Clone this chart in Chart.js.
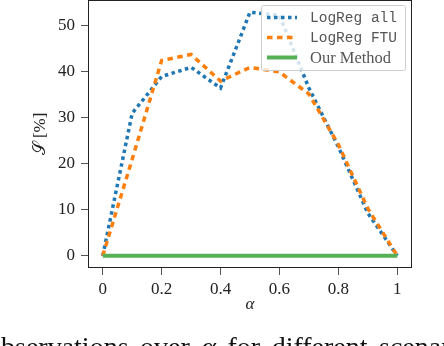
<!DOCTYPE html>
<html>
<head>
<meta charset="utf-8">
<script src="https://cdn.jsdelivr.net/npm/chart.js@4/dist/chart.umd.min.js"></script>
<style>
  html, body { margin: 0; padding: 0; background: #fff; }
  #wrap { position: relative; width: 444px; height: 346px; overflow: hidden; }
  #c { position: absolute; left: 0; top: 0; }
  #caption { position: absolute; left: -13px; top: 333px; white-space: nowrap; word-spacing: 4.5px;
    font-family: "Liberation Serif", serif; font-size: 28px; line-height: 28px; color: #111; }
</style>
</head>
<body>
<div id="wrap">
  <canvas id="c" width="444" height="346"></canvas>
  <div id="caption">observations over <i>α</i> for different scenarios</div>
</div>
<script>
// ---- data ----
const alphaValues = [0, 0.1, 0.2, 0.3, 0.4, 0.5, 0.6, 0.7, 0.8, 0.9, 1.0];
const logRegAll   = [0, 31, 39, 41, 36.5, 53, 52.3, 36.5, 23.7, 9.3, 0];
const logRegFTU   = [0, 21, 42.5, 43.8, 38, 41, 40, 35.2, 24.2, 10.3, 0];
const ourMethod   = [0, 0, 0, 0, 0, 0, 0, 0, 0, 0, 0];
const seriesLabels = ['LogReg all', 'LogReg FTU', 'Our Method'];
const xTickValues = [0, 0.2, 0.4, 0.6, 0.8, 1];
const xTickLabels = ['0', '0.2', '0.4', '0.6', '0.8', '1'];
const yTickValues = [0, 10, 20, 30, 40, 50];
const yTickLabels = ['0', '10', '20', '30', '40', '50'];

const toPts = arr => arr.map((v, i) => ({ x: alphaValues[i], y: v }));

const frame = {
  id: 'frame',
  beforeDatasetsDraw(chart) {
    const a = chart.chartArea, ctx = chart.ctx;
    ctx.save();
    ctx.strokeStyle = '#222';
    ctx.lineWidth = 1;
    ctx.strokeRect(Math.round(a.left) + 0.5, Math.round(a.top) + 0.5,
      Math.round(a.right - a.left) - 1, Math.round(a.bottom - a.top) - 1);
    ctx.restore();
  }
};

const legendBox = {
  id: 'legendBox',
  afterDatasetsDraw(chart) {
    const ctx = chart.ctx;
    const bx = 261.5, by = 5.5, bw = 144, bh = 65;
    ctx.save();
    ctx.fillStyle = 'rgba(255,255,255,0.8)';
    ctx.strokeStyle = '#cccccc';
    ctx.lineWidth = 1;
    ctx.beginPath();
    ctx.roundRect(bx, by, bw, bh, 2);
    ctx.fill();
    ctx.stroke();
    const rows = [17.5, 37.5, 57.5];
    const fonts = ['14.5px "Liberation Mono", monospace', '14.5px "Liberation Mono", monospace', '16.5px "Liberation Serif", serif'];
    chart.data.datasets.forEach((ds, i) => {
      const y = rows[i];
      ctx.strokeStyle = ds.borderColor;
      ctx.lineWidth = ds.borderWidth;
      ctx.lineCap = 'butt';
      ctx.setLineDash(ds.borderDash || []);
      ctx.beginPath();
      ctx.moveTo(267, y);
      ctx.lineTo(297, y);
      ctx.stroke();
      ctx.setLineDash([]);
      ctx.fillStyle = '#555';
      ctx.font = fonts[i];
      ctx.textBaseline = 'middle';
      ctx.textAlign = 'left';
      ctx.fillText(ds.label, 310, y + 1);
    });
    ctx.restore();
  }
};

const tickFont = { family: '"Liberation Serif", serif', size: 17 };

new Chart(document.getElementById('c'), {
  type: 'line',
  data: {
    datasets: [
      { label: seriesLabels[0], data: toPts(logRegAll), borderColor: '#1f77b4', borderWidth: 3.5,
        borderDash: [3.5, 3.5], pointRadius: 0, tension: 0, fill: false, order: 3, borderCapStyle: 'butt' },
      { label: seriesLabels[1], data: toPts(logRegFTU), borderColor: '#ff7f0e', borderWidth: 3.5,
        borderDash: [5.5, 4.5], pointRadius: 0, tension: 0, fill: false, order: 2, borderCapStyle: 'butt' },
      { label: seriesLabels[2], data: toPts(ourMethod), borderColor: '#55b155', borderWidth: 4,
        pointRadius: 0, tension: 0, fill: false, order: 1 }
    ]
  },
  options: {
    responsive: false,
    animation: false,
    devicePixelRatio: 1,
    layout: { padding: { left: 0, right: 32, top: 0, bottom: 0 } },
    plugins: { legend: { display: false }, tooltip: { enabled: false } },
    scales: {
      x: {
        type: 'linear', min: -0.05, max: 1.05,
        afterBuildTicks: s => { s.ticks = xTickValues.map(v => ({ value: v })); },
        afterFit: s => { s.height = 78; s.paddingLeft = 0; s.paddingRight = 0; },
        ticks: { font: tickFont, color: '#222', padding: 4, maxRotation: 0,
          callback: v => xTickLabels[xTickValues.indexOf(v)] },
        grid: { display: true, drawOnChartArea: false, drawTicks: true, tickLength: 7, tickColor: '#555' },
        border: { display: false },
        title: { display: true, text: 'α', font: { family: '"Liberation Serif", serif', size: 17, style: 'italic' },
          color: '#222', padding: { top: 0, bottom: 31 } }
      },
      y: {
        type: 'linear', min: -2.65, max: 55.65,
        afterBuildTicks: s => { s.ticks = yTickValues.map(v => ({ value: v })); },
        afterFit: s => { s.width = 88; s.paddingTop = 0; s.paddingBottom = 0; },
        ticks: { font: tickFont, color: '#222', padding: 6,
          callback: v => yTickLabels[yTickValues.indexOf(v)] },
        grid: { display: true, drawOnChartArea: false, drawTicks: true, tickLength: 7, tickColor: '#555' },
        border: { display: false },
        title: { display: true, text: '𝒮 [%]', font: { family: '"Liberation Serif", serif', size: 17 },
          color: '#222', padding: { top: 30, bottom: 0 } }
      }
    }
  },
  plugins: [frame, legendBox]
});
</script>
</body>
</html>
